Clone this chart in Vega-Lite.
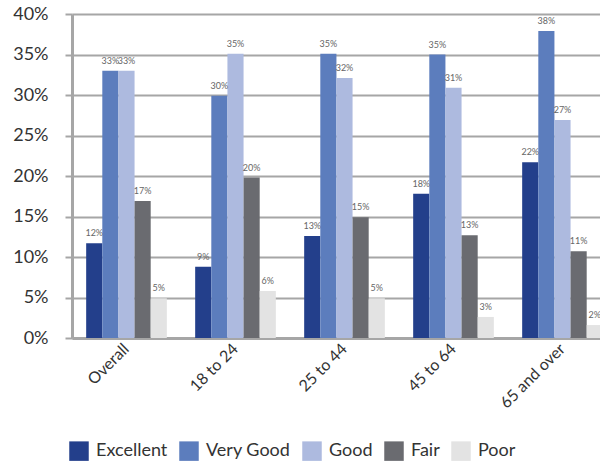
{
  "$schema": "https://vega.github.io/schema/vega-lite/v6.json",
  "autosize": {"type": "none"},
  "padding": {"left": 72, "top": 14, "right": 0, "bottom": 123},
  "width": 545,
  "height": 324,
  "background": "white",
  "config": {
    "font": "Lato",
    "view": {"stroke": null},
    "axis": {"labelFont": "Lato", "titleFont": "Lato"},
    "legend": {"labelFont": "Lato"}
  },
  "data": {
    "values": [
      {"group": "Overall", "rating": "Excellent", "value": 11.7, "label": "12%"},
      {"group": "Overall", "rating": "Very Good", "value": 33.0, "label": "33%"},
      {"group": "Overall", "rating": "Good", "value": 33.0, "label": "33%"},
      {"group": "Overall", "rating": "Fair", "value": 16.9, "label": "17%"},
      {"group": "Overall", "rating": "Poor", "value": 4.9, "label": "5%"},
      {"group": "18 to 24", "rating": "Excellent", "value": 8.8, "label": "9%"},
      {"group": "18 to 24", "rating": "Very Good", "value": 29.9, "label": "30%"},
      {"group": "18 to 24", "rating": "Good", "value": 35.1, "label": "35%"},
      {"group": "18 to 24", "rating": "Fair", "value": 19.8, "label": "20%"},
      {"group": "18 to 24", "rating": "Poor", "value": 5.8, "label": "6%"},
      {"group": "25 to 44", "rating": "Excellent", "value": 12.6, "label": "13%"},
      {"group": "25 to 44", "rating": "Very Good", "value": 35.1, "label": "35%"},
      {"group": "25 to 44", "rating": "Good", "value": 32.1, "label": "32%"},
      {"group": "25 to 44", "rating": "Fair", "value": 14.9, "label": "15%"},
      {"group": "25 to 44", "rating": "Poor", "value": 4.9, "label": "5%"},
      {"group": "45 to 64", "rating": "Excellent", "value": 17.8, "label": "18%"},
      {"group": "45 to 64", "rating": "Very Good", "value": 35.0, "label": "35%"},
      {"group": "45 to 64", "rating": "Good", "value": 30.9, "label": "31%"},
      {"group": "45 to 64", "rating": "Fair", "value": 12.7, "label": "13%"},
      {"group": "45 to 64", "rating": "Poor", "value": 2.6, "label": "3%"},
      {"group": "65 and over", "rating": "Excellent", "value": 21.7, "label": "22%"},
      {"group": "65 and over", "rating": "Very Good", "value": 37.9, "label": "38%"},
      {"group": "65 and over", "rating": "Good", "value": 26.9, "label": "27%"},
      {"group": "65 and over", "rating": "Fair", "value": 10.7, "label": "11%"},
      {"group": "65 and over", "rating": "Poor", "value": 1.6, "label": "2%"}
    ]
  },
  "encoding": {
    "x": {
      "field": "group",
      "type": "nominal",
      "sort": ["Overall", "18 to 24", "25 to 44", "45 to 64", "65 and over"],
      "scale": {"paddingInner": 0.26, "paddingOuter": 0.13},
      "axis": {
        "title": null,
        "labelAngle": -45,
        "labelAlign": "right",
        "labelBaseline": "middle",
        "labelFontSize": 16,
        "labelColor": "#333333",
        "labelPadding": 8,
        "ticks": false,
        "domainColor": "#a6a6a6",
        "domainWidth": 3,
        "grid": false
      }
    },
    "xOffset": {
      "field": "rating",
      "type": "nominal",
      "sort": ["Excellent", "Very Good", "Good", "Fair", "Poor"],
      "scale": {"paddingInner": 0, "paddingOuter": 0}
    },
    "y": {
      "field": "value",
      "type": "quantitative",
      "scale": {"domain": [0, 40]},
      "axis": {
        "title": null,
        "values": [0, 5, 10, 15, 20, 25, 30, 35, 40],
        "labelExpr": "datum.value + '%'",
        "labelFontSize": 18,
        "labelColor": "#333333",
        "labelPadding": 17,
        "tickSize": 7,
        "tickColor": "#a6a6a6",
        "tickWidth": 2,
        "gridColor": "#a6a6a6",
        "gridWidth": 2,
        "domainColor": "#a6a6a6",
        "domainWidth": 3
      }
    }
  },
  "layer": [
    {
      "mark": {"type": "bar"},
      "encoding": {
        "color": {
          "field": "rating",
          "type": "nominal",
          "sort": ["Excellent", "Very Good", "Good", "Fair", "Poor"],
          "scale": {
            "domain": ["Excellent", "Very Good", "Good", "Fair", "Poor"],
            "range": ["#233f8b", "#5c7dbd", "#adbadf", "#6a6b70", "#e3e3e3"]
          },
          "legend": {
            "title": null,
            "orient": "none",
            "legendX": -3,
            "legendY": 427,
            "direction": "horizontal",
            "columns": 5,
            "symbolType": "square",
            "symbolSize": 380,
            "symbolStrokeWidth": 0,
            "labelFontSize": 18,
            "labelColor": "#333333",
            "labelOffset": 7,
            "columnPadding": 11
          }
        }
      }
    },
    {
      "mark": {"type": "text", "dy": -5, "baseline": "bottom", "fontSize": 9, "fill": "#666666"},
      "encoding": {"text": {"field": "label"}}
    }
  ]
}
